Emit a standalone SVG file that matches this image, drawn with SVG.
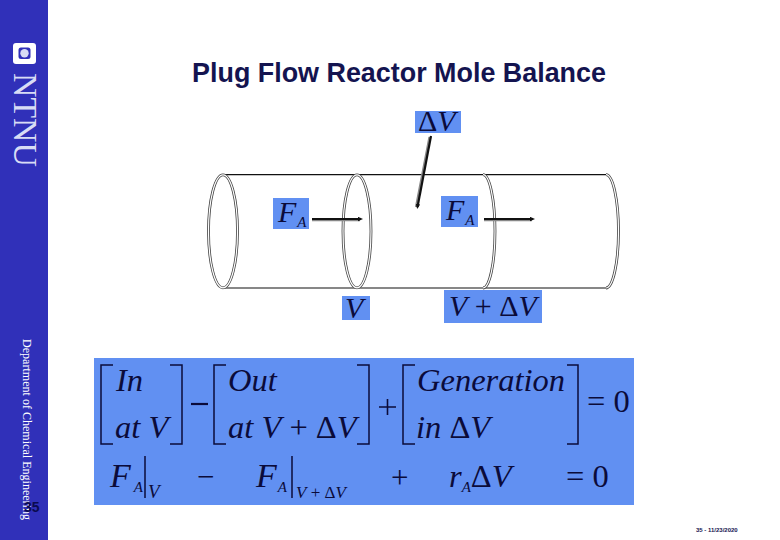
<svg xmlns="http://www.w3.org/2000/svg" width="780" height="540" viewBox="0 0 780 540">
<style>
.box{fill:#6190f2}
.m{font-family:"Liberation Serif","Times New Roman",serif;fill:#0b0b3a}
.i{font-style:italic}
.t{font-size:32.500px}
.s{font-size:30px}
.f{font-size:34px}
.sub{font-size:15px}
.b{fill:none;stroke:#0b0b3a;stroke-width:1.5}
.o{fill:none;stroke:#444;stroke-width:2.800}
.w{fill:none;stroke:#fff;stroke-width:1.200}
.l{stroke:#111;stroke-width:1.200;fill:none}
.a{stroke:#111;stroke-width:2.200;fill:none}
.ash{stroke:#888;stroke-width:2.200;fill:none}
</style>
<defs>
<marker id="head" markerWidth="5" markerHeight="5" refX="3" refY="2.500" orient="auto" markerUnits="userSpaceOnUse"><path d="M0 0.300L5 2.500L0 4.700z" fill="#111"/></marker>
</defs>
<rect width="780" height="540" fill="#fff"/>
<g id="sidebar">
<rect width="48" height="540" fill="#3030b9"/>
<rect x="13" y="43" width="23" height="21" rx="3" fill="#fff"/>
<rect x="18.500" y="47.500" width="12" height="11.500" rx="2.500" fill="#3030b9"/>
<circle cx="24.500" cy="53.300" r="4.200" fill="#d8dcf5"/>
<text transform="translate(13.500 73) rotate(90)" font-family="Liberation Serif,serif" font-size="34" fill="#d8dcf5" textLength="94" lengthAdjust="spacingAndGlyphs">NTNU</text>
<text transform="translate(22.500 339) rotate(90)" font-family="Liberation Serif,serif" font-size="12" fill="#fff" textLength="181" lengthAdjust="spacing">Department of Chemical Engineering</text>
<text x="24" y="512" font-family="Liberation Sans,sans-serif" font-weight="700" font-size="14" fill="#0a0a50">35</text>
</g>
<g id="title"><text x="399" y="82" text-anchor="middle" font-family="Liberation Sans,sans-serif" font-weight="700" font-size="26.900" fill="#141450">Plug Flow Reactor Mole Balance</text></g>
<g id="reactor">
<path class="l" d="M223 174.700H606M223 288H606"/>
<g id="cross-section-1"><ellipse class="o" cx="223" cy="231.300" rx="14.500" ry="56.500"/><ellipse class="w" cx="223" cy="231.300" rx="14.500" ry="56.500"/></g>
<g id="cross-section-2"><ellipse class="o" cx="357" cy="231.300" rx="14" ry="56.500"/><ellipse class="w" cx="357" cy="231.300" rx="14" ry="56.500"/></g>
<g id="cross-section-3"><path class="o" d="M483 174.700A12 56.650 0 0 1 483 288"/><path class="w" d="M483 174.700A12 56.650 0 0 1 483 288"/></g>
<g id="cross-section-4"><path class="o" d="M606 174.700A12.500 56.650 0 0 1 606 288"/><path class="w" d="M606 174.700A12.500 56.650 0 0 1 606 288"/></g>
</g>
<g id="connectors">
<path class="ash" d="M312 220.200H360M484 220.200H532M429.500 137L416 207"/>
<path class="a" marker-end="url(#head)" d="M312 219H361"/>
<path class="a" marker-end="url(#head)" d="M484 219H533"/>
<path class="a" marker-end="url(#head)" d="M431 136L417.500 207"/>
</g>
<g id="label-dv"><rect class="box" x="415" y="111" width="46" height="22"/><text class="m s" x="418" y="131">Δ<tspan class="i">V</tspan></text></g>
<g id="label-fa1"><rect class="box" x="273" y="198" width="36" height="31"/><text class="m i s" x="278" y="222">F<tspan class="sub" dx="1" dy="5">A</tspan></text></g>
<g id="label-fa2"><rect class="box" x="441" y="196" width="37" height="31"/><text class="m i s" x="446" y="220">F<tspan class="sub" dx="1" dy="5">A</tspan></text></g>
<g id="label-v"><rect class="box" x="342" y="296" width="28" height="24"/><text class="m i s" x="345" y="318">V</text></g>
<g id="label-vdv"><rect class="box" x="444" y="290" width="98" height="33"/><text class="m s" x="449" y="316"><tspan class="i">V</tspan> + Δ<tspan class="i">V</tspan></text></g>
<g id="equation">
<rect class="box" x="94" y="358" width="540" height="147"/>
<path class="b" d="M113 365H101V444H113M170 365H182V444H170"/>
<path class="b" d="M226 365H214V444H226M357 365H369V444H357"/>
<path class="b" d="M415 365H403V444H415M567 365H578V444H567"/>
<path d="M191 404H208" stroke="#0b0b3a" stroke-width="2.200"/>
<path d="M379 407H396M387.500 399V415" stroke="#0b0b3a" stroke-width="1.600"/>
<text class="m i t" x="116" y="391">In</text>
<text class="m i t" x="115" y="438">at V</text>
<text class="m i t" x="228" y="391">Out</text>
<text class="m t" x="228" y="438"><tspan class="i">at V</tspan> + Δ<tspan class="i">V</tspan></text>
<text class="m i t" x="417" y="391">Generation</text>
<text class="m t" x="416" y="438"><tspan class="i">in</tspan> Δ<tspan class="i">V</tspan></text>
<text class="m t" x="587" y="412">= 0</text>
<text class="m i f" x="110" y="487">F<tspan class="sub" dx="3" dy="5">A</tspan></text>
<path d="M145 456V498M292 456V498" stroke="#0b0b3a" stroke-width="1.500"/>
<text class="m i" x="148" y="498" font-size="19">V</text>
<text class="m" x="197" y="487" font-size="31">−</text>
<text class="m i f" x="256" y="487">F<tspan class="sub" dx="1" dy="5">A</tspan></text>
<text class="m" x="296" y="498" font-size="17"><tspan class="i">V</tspan> + Δ<tspan class="i">V</tspan></text>
<text class="m" x="391" y="488" font-size="31">+</text>
<text class="m t" x="449" y="487"><tspan class="i">r</tspan><tspan class="i sub" dy="5">A</tspan><tspan dy="-5">Δ</tspan><tspan class="i">V</tspan></text>
<text class="m t" x="566" y="487">= 0</text>
</g>
<g id="footer"><text x="696" y="532" font-family="Liberation Sans,sans-serif" font-size="6" font-weight="700" fill="#141450">35 - 11/23/2020</text></g>
</svg>
